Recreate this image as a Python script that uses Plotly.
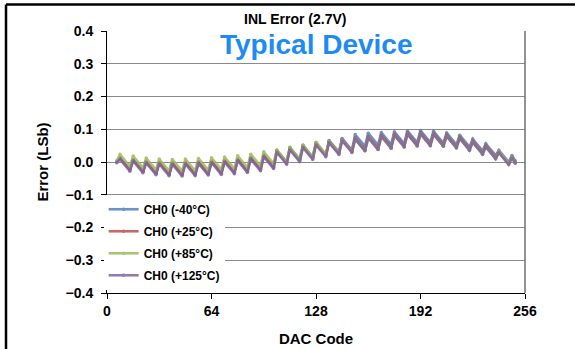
import plotly.graph_objects as go

# DAC codes sampled at the sawtooth corners
dac_code = [6, 8, 14, 16, 22, 24, 30, 32, 38, 40, 46, 48, 54, 56, 62, 64, 70, 72, 78,
            80, 86, 88, 94, 96, 102, 104, 110, 112, 118, 120, 126, 128, 134, 136, 142,
            144, 150, 152, 158, 160, 166, 168, 174, 176, 182, 184, 190, 192, 198, 200,
            206, 208, 214, 216, 222, 224, 230, 232, 238, 240, 246, 248, 250]

err_m40 = [0.000, 0.013, -0.023, 0.008, -0.028, 0.002, -0.034, -0.001, -0.037, -0.002, -0.038,
           -0.001, -0.037, 0.001, -0.035, 0.003, -0.033, 0.005, -0.031, 0.009, -0.027,
           0.014, -0.022, 0.021, -0.015, 0.036, 0.000, 0.044, 0.008, 0.051, 0.015,
           0.059, 0.023, 0.066, 0.030, 0.072, 0.036, 0.084, 0.048, 0.088, 0.052,
           0.090, 0.054, 0.092, 0.056, 0.095, 0.059, 0.096, 0.060, 0.094, 0.058,
           0.089, 0.053, 0.082, 0.046, 0.070, 0.034, 0.056, 0.020, 0.036, 0.000,
           0.020, 0.004]

err_p25 = [0.002, 0.012, -0.024, 0.007, -0.029, 0.001, -0.035, -0.002, -0.038, -0.003, -0.039,
           -0.002, -0.038, 0.000, -0.036, 0.002, -0.034, 0.004, -0.032, 0.008, -0.028,
           0.013, -0.023, 0.020, -0.016, 0.033, -0.003, 0.041, 0.005, 0.048, 0.012,
           0.056, 0.020, 0.063, 0.027, 0.069, 0.033, 0.074, 0.038, 0.078, 0.042,
           0.082, 0.046, 0.086, 0.050, 0.089, 0.053, 0.090, 0.054, 0.088, 0.052,
           0.083, 0.047, 0.076, 0.040, 0.064, 0.028, 0.050, 0.014, 0.032, -0.004,
           0.016, 0.000]

err_p85 = [0.004, 0.023, -0.013, 0.018, -0.018, 0.012, -0.024, 0.009, -0.027, 0.008, -0.028,
           0.009, -0.027, 0.011, -0.025, 0.013, -0.023, 0.015, -0.021, 0.019, -0.017,
           0.024, -0.012, 0.031, -0.005, 0.037, 0.001, 0.045, 0.009, 0.052, 0.016,
           0.060, 0.024, 0.063, 0.027, 0.067, 0.031, 0.070, 0.034, 0.074, 0.038,
           0.078, 0.042, 0.082, 0.046, 0.085, 0.049, 0.086, 0.050, 0.084, 0.048,
           0.079, 0.043, 0.072, 0.036, 0.060, 0.024, 0.046, 0.010, 0.032, -0.004,
           0.014, -0.002]

err_p125 = [-0.002, 0.008, -0.028, 0.003, -0.033, -0.003, -0.039, -0.006, -0.042, -0.007, -0.043,
            -0.006, -0.042, -0.004, -0.040, -0.002, -0.038, 0.000, -0.036, 0.004, -0.032,
            0.009, -0.027, 0.016, -0.020, 0.029, -0.007, 0.037, 0.001, 0.044, 0.008,
            0.052, 0.016, 0.059, 0.023, 0.065, 0.029, 0.070, 0.034, 0.074, 0.038,
            0.078, 0.042, 0.082, 0.046, 0.085, 0.049, 0.086, 0.050, 0.084, 0.048,
            0.079, 0.043, 0.072, 0.036, 0.060, 0.024, 0.046, 0.010, 0.028, -0.008,
            0.012, -0.004]

series_names = ["CH0 (-40°C)", "CH0 (+25°C)", "CH0 (+85°C)", "CH0 (+125°C)"]
series_values = [err_m40, err_p25, err_p85, err_p125]
series_colors = ["#4F81BD", "#C0504D", "#9BBB59", "#8064A2"]

x_ticks = [0, 64, 128, 192, 256]
y_ticks = [-0.4, -0.3, -0.2, -0.1, 0.0, 0.1, 0.2, 0.3, 0.4]

FONT = "Liberation Sans, Arial, sans-serif"

fig = go.Figure()
for i, (name, vals, col) in enumerate(zip(series_names, series_values, series_colors)):
    fig.add_trace(go.Scatter(
        x=dac_code, y=vals, name=name, mode="lines+markers",
        line=dict(color=col, width=2.6),
        marker=dict(color=col, size=3.5),
        opacity=0.85,
        legendgroup=f"g{i}",
    ))

fig.update_layout(
    width=575, height=349,
    margin=dict(l=107, r=50, t=31, b=56),
    paper_bgcolor="white", plot_bgcolor="white",
    font=dict(family=FONT, color="black", size=13),
    showlegend=True,
    legend=dict(
        x=-0.008, y=0.375, xanchor="left", yanchor="top",
        bgcolor="white", borderwidth=0,
        font=dict(family=FONT, size=12, color="black", weight="bold"),
        tracegroupgap=3, itemwidth=30,
    ),
    xaxis=dict(
        range=[0, 256], tickvals=x_ticks, ticktext=[str(v) for v in x_ticks],
        showgrid=False, zeroline=False, automargin=False,
        showline=True, linecolor="black", linewidth=1,
        ticks="outside", ticklen=5, tickcolor="black",
        tickfont=dict(family=FONT, size=14, color="black", weight="bold"),
        title=dict(text="DAC Code", font=dict(family=FONT, size=15, color="black", weight="bold"), standoff=15),
    ),
    yaxis=dict(
        range=[-0.4, 0.4], tickvals=y_ticks, tickformat=".1f",
        showgrid=True, gridcolor="#8a8a8a", gridwidth=1.2, zeroline=False, automargin=False,
        showline=True, linecolor="black", linewidth=1,
        ticks="outside", ticklen=5, tickcolor="black", ticklabelstandoff=5,
        tickfont=dict(family=FONT, size=14, color="black", weight="bold"),
        title=dict(text="Error (LSb)", font=dict(family=FONT, size=15, color="black", weight="bold"), standoff=13),
    ),
    shapes=[
        dict(type="line", xref="paper", yref="paper", x0=1, x1=1, y0=0, y1=1,
             line=dict(color="#6e6e6e", width=1.5)),
        dict(type="line", xref="paper", yref="paper", x0=-0.2416, x1=1.2, y0=1.1011, y1=1.1011,
             line=dict(color="black", width=2.5)),
        dict(type="line", xref="paper", yref="paper", x0=-0.2416, x1=-0.2416, y0=-0.3, y1=1.1011,
             line=dict(color="black", width=2.5)),
    ],
    annotations=[
        dict(text="INL Error (2.7V)", xref="paper", yref="paper",
             x=(295 - 107) / 418, y=(293 - 19) / 262, xanchor="center", yanchor="middle",
             showarrow=False, font=dict(family=FONT, size=14, color="black", weight="bold")),
        dict(text="Typical Device", xref="paper", yref="paper",
             x=0.5, y=(293 - 45) / 262, xanchor="center", yanchor="middle",
             showarrow=False, font=dict(family=FONT, size=28, color="#1E8BF5", weight="bold")),
    ],
)

fig.write_html("out.html", config={"displayModeBar": False},
               post_script="document.body.style.margin='0';")
